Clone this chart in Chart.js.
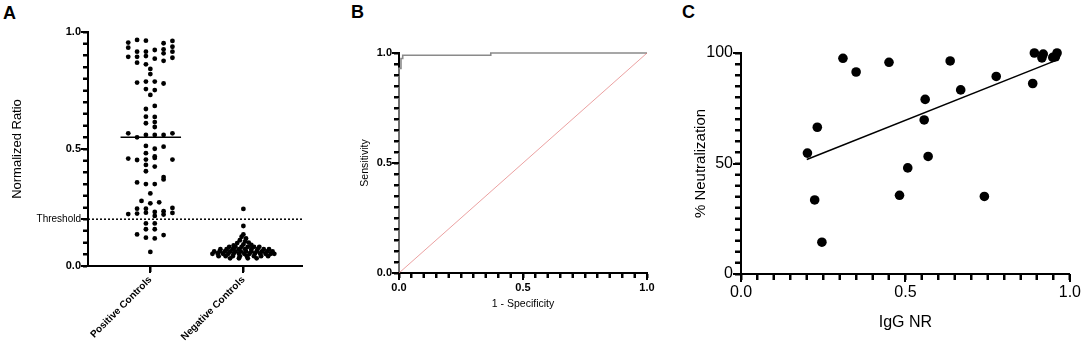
<!DOCTYPE html>
<html>
<head>
<meta charset="utf-8">
<script src="https://cdn.jsdelivr.net/npm/chart.js@4.4.0/dist/chart.umd.min.js"></script>
<style>
  body { margin: 0; background: #fff; width: 1084px; height: 351px; overflow: hidden; position: relative; font-family: "Liberation Sans", Arial, sans-serif; }
  .box { position: absolute; top: 0; height: 351px; }
  .box canvas { position: absolute; left: 0; top: 0; }
  .tag { position: absolute; font-weight: bold; font-size: 18px; color: #000; }
</style>
</head>
<body>
<div class="tag" style="left:3px;top:3px">A</div>
<div class="tag" style="left:351px;top:2px">B</div>
<div class="tag" style="left:682px;top:2px">C</div>
<div class="box" style="left:0;width:310px"><canvas id="panelA" width="310" height="351"></canvas></div>
<div class="box" style="left:330px;width:340px"><canvas id="panelB" width="340" height="351"></canvas></div>
<div class="box" style="left:670px;width:414px"><canvas id="panelC" width="414" height="351"></canvas></div>
<script>
// ---- panel A : normalized ratio per group ----
const groups = ['Positive Controls', 'Negative Controls'];
const threshold = 0.2;
const posMedian = 0.55;
const negMedian = 0.06;
const posValues = [
  0.955, 0.966, 0.963, 0.952, 0.962, 0.933, 0.937,
  0.916, 0.916, 0.923, 0.926, 0.916, 0.909,
  0.894, 0.894, 0.897, 0.886, 0.877, 0.89,
  0.869, 0.862, 0.842, 0.82,
  0.784, 0.788, 0.788, 0.78, 0.756, 0.752, 0.731,
  0.671, 0.684, 0.638, 0.637, 0.61, 0.615, 0.594,
  0.567, 0.55, 0.56, 0.56, 0.56, 0.567,
  0.513, 0.501, 0.51, 0.482, 0.468,
  0.459, 0.453, 0.455, 0.462, 0.455,
  0.432, 0.425, 0.405, 0.38,
  0.357, 0.35, 0.35, 0.37, 0.31,
  0.278, 0.268, 0.272,
  0.245, 0.245, 0.231, 0.234, 0.248,
  0.222, 0.224, 0.228, 0.214, 0.22, 0.227,
  0.182, 0.182, 0.157, 0.157,
  0.135, 0.121, 0.118, 0.132, 0.06
];
// horizontal spread of each dot, in dot columns
const posSpread = [
  -2.5, -1.5, -0.5, 1.5, 2.5, -2.5, 2.5,
  -1.5, -0.5, 0.5, 1.5, 2.5, 1.5,
  -2.5, -1.5, -0.5, 0.5, 1.5, 2.5,
  -1.5, -0.5, 0, 0,
  -1.5, -0.5, 0.5, 1.5, -0.5, 0.5, 0,
  -0.5, 0.5, -0.5, 0.5, -0.5, 0.5, 0.5,
  -2.5, -1.5, -0.5, 0.5, 1.5, 2.5,
  -0.5, 0.5, 1.5, -0.5, 0.5,
  -2.5, -1.5, -0.5, 0.5, 2.5,
  -0.5, 0.5, -0.5, 1.5,
  -1.5, -0.5, 0.5, 1.5, 0,
  -1, 0, 1,
  -1.5, -0.5, 0.5, 1.5, 2.5,
  -2.5, -1.5, -0.5, 0.5, 1.5, 2.5,
  -0.5, 0.5, -0.5, 0.5,
  -1.5, -0.5, 0.5, 1.5, 0
];
const negValues = [
  0.244, 0.171,
  0.135, 0.125, 0.118, 0.11, 0.105, 0.1, 0.098, 0.092, 0.09, 0.088,
  0.082, 0.082, 0.082, 0.082, 0.082, 0.082,
  0.072, 0.072, 0.072, 0.072, 0.072, 0.072, 0.072, 0.072, 0.072,
  0.062, 0.062, 0.062, 0.062, 0.062, 0.062, 0.062, 0.062, 0.062, 0.062, 0.062, 0.062,
  0.052, 0.052, 0.052, 0.052, 0.052, 0.052, 0.052, 0.052, 0.052, 0.052, 0.052, 0.052, 0.052,
  0.042, 0.042, 0.042, 0.042, 0.042, 0.042, 0.042, 0.042,
  0.033, 0.033, 0.033, 0.033
];
const negSpread = [
  0, 0,
  0, -0.2, 0.3, -0.4, 0.2, 0.6, -0.7, 0, 0.9, -1.1,
  -1.6, -0.9, -0.2, 0.5, 1.2, 1.8,
  -2.6, -1.9, -1.2, -0.5, 0.2, 0.9, 1.6, 2.3, 2.9,
  -3.3, -2.7, -2.1, -1.5, -0.9, -0.3, 0.3, 0.9, 1.5, 2.1, 2.7, 3.3,
  -3.5, -2.9, -2.3, -1.7, -1.1, -0.5, 0.1, 0.7, 1.3, 1.9, 2.5, 3.1, 3.5,
  -2.8, -2, -1.2, -0.4, 0.4, 1.2, 2, 2.8,
  -1.5, -0.5, 0.5, 1.5
];

// ---- panel B : ROC curve ----
const rocFpr = [0, 0, 0.008, 0.008, 0.015, 0.015, 0.37, 0.37, 1];
const rocTpr = [0, 0.93, 0.93, 0.975, 0.975, 0.99, 0.99, 1, 1];

// ---- panel C : IgG NR vs neutralization ----
const iggNR = [0.202, 0.232, 0.224, 0.246, 0.31, 0.35, 0.45, 0.482, 0.507, 0.557, 0.56, 0.569,
  0.636, 0.668, 0.74, 0.776, 0.887, 0.892, 0.919, 0.915, 0.948, 0.956, 0.961];
const neutral = [54.7, 66.4, 33.5, 14.4, 97.6, 91.4, 95.8, 35.6, 48, 69.7, 79, 53.2,
  96.4, 83.3, 35.1, 89.4, 86.2, 100, 99.5, 97.8, 98, 98.3, 100];
const fitX = [0.2, 0.96];
const fitY = [51.8, 96.8];

const FONT = '"Liberation Sans", Arial, sans-serif';
const COL = 0.095; // width of one dot column, in category units

const near = (v, t) => Math.abs(v - t) < 1e-6;
const majorLabel = v => (near(v, 0) || near(v, 0.5) || near(v, 1)) ? v.toFixed(1) : '';

function axisBase(len) {
  return {
    border: { display: true, color: '#000', width: 2 },
    grid: { drawOnChartArea: false, drawTicks: true, tickLength: len, tickWidth: 2, tickColor: '#000' }
  };
}

function baseOptions(padding) {
  return {
    animation: false,
    responsive: false,
    color: '#000',
    font: { family: FONT },
    layout: { padding },
    plugins: { legend: { display: false }, tooltip: { enabled: false } }
  };
}

const dots = r => ({ pointRadius: r, pointBackgroundColor: '#000', pointBorderWidth: 0, clip: 8 });

// outside tick marks on a layer over the chart, placed with the chart's own scales
function tickLayer(chart, major, minor) {
  const c = chart.canvas;
  const ov = document.createElement('canvas');
  ov.width = c.width;
  ov.height = c.height;
  ov.style.pointerEvents = 'none';
  c.parentNode.appendChild(ov);
  const ctx = ov.getContext('2d');
  const area = chart.chartArea;
  ctx.fillStyle = '#000';
  for (const s of Object.values(chart.scales)) {
    for (const t of s.ticks) {
      const len = t.label ? major : minor;
      const p = Math.round(s.getPixelForValue(t.value));
      if (s.axis === 'x') ctx.fillRect(p - 1, area.bottom, 2, len + 1);
      else ctx.fillRect(area.left - len - 1, p - 1, len + 1, 2);
    }
  }
}

// panel A
const posPts = posValues.map((v, i) => ({ x: 1 + posSpread[i] * COL, y: v }));
const negPts = negValues.map((v, i) => ({ x: 2 + negSpread[i] * COL, y: v }));

const chartA = new Chart(document.getElementById('panelA'), {
  type: 'scatter',
  data: {
    datasets: [
      { data: posPts, ...dots(2.4) },
      { data: negPts, ...dots(2.4) },
      { type: 'line', data: [{ x: 1 - 0.32, y: posMedian }, { x: 1 + 0.33, y: posMedian }],
        borderColor: '#000', borderWidth: 1.5, pointRadius: 0 },
      { type: 'line', data: [{ x: 2 - 0.3, y: negMedian }, { x: 2 + 0.3, y: negMedian }],
        borderColor: '#000', borderWidth: 1.5, pointRadius: 0 },
      { type: 'line', data: [{ x: 0.33, y: threshold }, { x: 2.63, y: threshold }],
        borderColor: '#000', borderWidth: 1.5, borderDash: [2, 2], pointRadius: 0 }
    ]
  },
  options: {
    ...baseOptions({ top: 32, right: 8, left: 0, bottom: 0 }),
    scales: {
      x: {
        ...axisBase(6),
        min: 0.33, max: 2.63,
        afterBuildTicks: s => { s.ticks = [{ value: 1 }, { value: 2 }]; },
        afterFit: s => { s.height = 85; },
        ticks: {
          color: '#000', autoSkip: false, minRotation: 45, maxRotation: 45, padding: 2,
          font: { family: FONT, size: 10, weight: 'bold' },
          callback: v => groups[Math.round(v) - 1]
        }
      },
      y: {
        ...axisBase(5),
        min: 0, max: 1,
        afterFit: s => { s.width = 88; },
        title: { display: true, text: 'Normalized Ratio', color: '#000', font: { family: FONT, size: 13 }, padding: { top: 10, bottom: 0 } },
        ticks: {
          color: '#000', stepSize: 0.05, autoSkip: false, padding: 2,
          font: c => (c.tick && near(c.tick.value, threshold)) ? { family: FONT, size: 10 } : { family: FONT, size: 11, weight: 'bold' },
          callback: v => near(v, threshold) ? 'Threshold' : majorLabel(v)
        }
      }
    }
  }
});
tickLayer(chartA, 6, 4);

// panel B
const chartB = new Chart(document.getElementById('panelB'), {
  type: 'scatter',
  data: {
    datasets: [
      { type: 'line', data: [{ x: 0, y: 0 }, { x: 1, y: 1 }], borderColor: 'rgba(225,110,110,0.65)', borderWidth: 1, pointRadius: 0 },
      { type: 'line', data: rocFpr.map((f, i) => ({ x: f, y: rocTpr[i] })), borderColor: '#8a8a8a', borderWidth: 1.6, pointRadius: 0, clip: 4 }
    ]
  },
  options: {
    ...baseOptions({ top: 53, right: 23, left: 0, bottom: 0 }),
    scales: {
      x: {
        ...axisBase(5),
        min: 0, max: 1,
        afterFit: s => { s.height = 78; },
        title: { display: true, text: '1 - Specificity', color: '#000', font: { family: FONT, size: 10.5 }, padding: { top: 0, bottom: 41 } },
        ticks: {
          color: '#000', stepSize: 0.05, autoSkip: false, maxRotation: 0, padding: 3,
          font: { family: FONT, size: 11, weight: 'bold' },
          callback: majorLabel
        }
      },
      y: {
        ...axisBase(5),
        min: 0, max: 1,
        afterFit: s => { s.width = 69; },
        title: { display: true, text: 'Sensitivity', color: '#000', font: { family: FONT, size: 10.5 }, padding: { top: 29, bottom: 0 } },
        ticks: {
          color: '#000', stepSize: 0.05, autoSkip: false, padding: 2,
          font: { family: FONT, size: 11, weight: 'bold' },
          callback: majorLabel
        }
      }
    }
  }
});
tickLayer(chartB, 6, 4);

// panel C
const chartC = new Chart(document.getElementById('panelC'), {
  type: 'scatter',
  data: {
    datasets: [
      { data: iggNR.map((x, i) => ({ x, y: neutral[i] })), ...dots(4.8) },
      { type: 'line', data: fitX.map((x, i) => ({ x, y: fitY[i] })), borderColor: '#000', borderWidth: 1.5, pointRadius: 0 }
    ]
  },
  options: {
    ...baseOptions({ top: 53, right: 14, left: 0, bottom: 0 }),
    scales: {
      x: {
        ...axisBase(6),
        min: 0, max: 1,
        afterFit: s => { s.height = 77; },
        title: { display: true, text: 'IgG NR', color: '#000', font: { family: FONT, size: 16 }, padding: { top: 0, bottom: 19 } },
        ticks: {
          color: '#000', stepSize: 0.05, autoSkip: false, maxRotation: 0, padding: 3,
          font: { family: FONT, size: 16 },
          callback: majorLabel
        }
      },
      y: {
        ...axisBase(6),
        min: 0, max: 100,
        afterFit: s => { s.width = 71; },
        title: { display: true, text: '% Neutralization', color: '#000', font: { family: FONT, size: 15 }, padding: { top: 22, bottom: 0 } },
        ticks: {
          color: '#000', stepSize: 5, autoSkip: false, padding: 2,
          font: { family: FONT, size: 16 },
          callback: v => (v === 0 || v === 50 || v === 100) ? String(v) : ''
        }
      }
    }
  }
});
tickLayer(chartC, 7, 5);
</script>
</body>
</html>
